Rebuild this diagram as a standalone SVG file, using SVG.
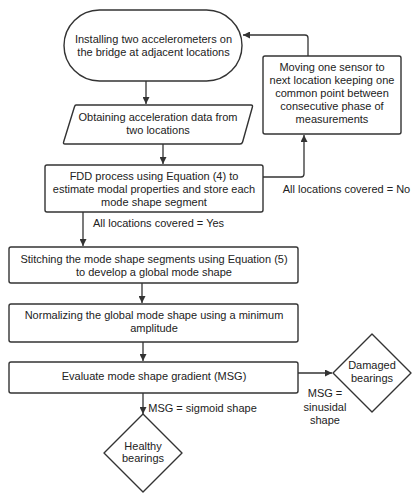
<svg xmlns="http://www.w3.org/2000/svg" width="420" height="500" viewBox="0 0 420 500">
<defs>
<marker id="arr" viewBox="0 0 10 10" refX="10" refY="5" markerWidth="7" markerHeight="7" markerUnits="userSpaceOnUse" orient="auto">
<path d="M0,0 L10,5 L0,10 z" fill="#333"/>
</marker>
</defs>
<style>
.s{fill:#fff;stroke:#333;stroke-width:1.4}
.c{fill:none;stroke:#333;stroke-width:1.3;marker-end:url(#arr)}
text{font-family:"Liberation Sans",Arial,sans-serif;font-size:11px;fill:#222;text-anchor:middle}
</style>
<rect width="420" height="500" fill="#fff"/>
<g id="connectors">
<path class="c" d="M146,81 V104"/>
<path class="c" d="M163,144 V164"/>
<path class="c" d="M263,177 H301 Q304,177 304,174 V135"/>
<path class="c" d="M308,56 V38 Q308,35 305,35 H243"/>
<path class="c" d="M83,212 V246"/>
<path class="c" d="M142,283 V303"/>
<path class="c" d="M143,342 V361"/>
<path class="c" d="M143,393 V414"/>
<path class="c" d="M298,373 H332"/>
</g>
<g id="n1">
<rect class="s" x="64" y="10" width="178" height="71" rx="35.5"/>
<text x="153.5" y="43">Installing two accelerometers on</text>
<text x="153.5" y="56">the bridge at adjacent locations</text>
</g>
<g id="n2">
<path class="s" d="M76,105 H251 Q253,105 252.4,107 L242.6,142 Q242,144 240,144 H65 Q63,144 63.6,142 L74.4,107 Q75,105 76,105 z"/>
<text x="158" y="121">Obtaining acceleration data from</text>
<text x="158" y="134">two locations</text>
</g>
<g id="n3">
<rect class="s" x="45" y="165" width="218" height="47" rx="2"/>
<text x="154" y="180">FDD process using Equation (4) to</text>
<text x="154" y="193">estimate modal properties and store each</text>
<text x="154" y="206">mode shape segment</text>
</g>
<g id="n4">
<rect class="s" x="263" y="56" width="138" height="78" rx="2"/>
<text x="332" y="71">Moving one sensor to</text>
<text x="332" y="84">next location keeping one</text>
<text x="332" y="97">common point between</text>
<text x="332" y="110">consecutive phase of</text>
<text x="332" y="123">measurements</text>
</g>
<g id="n5">
<rect class="s" x="9" y="247" width="289" height="36" rx="2"/>
<text x="154" y="263">Stitching the mode shape segments using Equation (5)</text>
<text x="154" y="276">to develop a global mode shape</text>
</g>
<g id="n6">
<rect class="s" x="9" y="304" width="289" height="38" rx="2"/>
<text x="154" y="319">Normalizing the global mode shape using a minimum</text>
<text x="154" y="332">amplitude</text>
</g>
<g id="n7">
<rect class="s" x="9" y="362" width="289" height="31" rx="2"/>
<text x="154" y="380">Evaluate mode shape gradient (MSG)</text>
</g>
<g id="n8">
<path class="s" d="M143,414 L182,453 L143,492 L104,453 z" stroke-linejoin="round"/>
<text x="143" y="450">Healthy</text>
<text x="143" y="462">bearings</text>
</g>
<g id="n9">
<path class="s" d="M372,334 L411,373 L372,412 L333,373 z" stroke-linejoin="round"/>
<text x="372" y="369">Damaged</text>
<text x="372" y="382">bearings</text>
</g>
<g id="labels">
<text x="346.5" y="193">All locations covered = No</text>
<text x="158.5" y="227">All locations covered = Yes</text>
<text x="202.5" y="412">MSG = sigmoid shape</text>
<text x="325" y="397">MSG =</text>
<text x="325" y="411">sinusidal</text>
<text x="325" y="424">shape</text>
</g>
</svg>
